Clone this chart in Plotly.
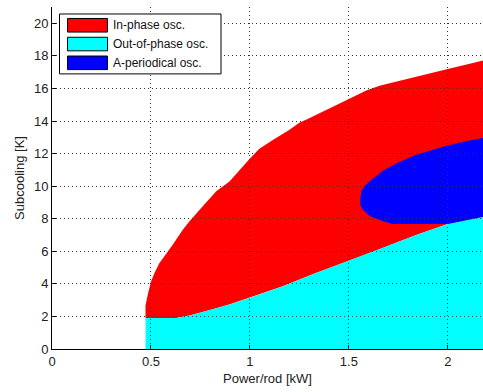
import plotly.graph_objects as go

# ---- data ----
upper_x = [0.4725, 0.4725, 0.484, 0.493, 0.501, 0.518, 0.543, 0.56, 0.594, 0.61, 0.661, 0.695,
           0.762, 0.83, 0.897, 0.947, 0.998, 1.048, 1.116, 1.2, 1.25, 1.3, 1.352, 1.394,
           1.487, 1.588, 1.655, 1.806, 1.87, 2.0, 2.09, 2.175, 2.2]
upper_y = [1.91, 2.67, 3.34, 3.75, 4.16, 4.67, 5.28, 5.55, 6.1, 6.4, 7.33, 7.84,
           8.76, 9.68, 10.29, 11.0, 11.67, 12.29, 12.84, 13.46, 13.9, 14.17, 14.48, 14.75,
           15.26, 15.87, 16.16, 16.63, 16.8, 17.2, 17.45, 17.7, 17.78]

lower_x = [0.4725, 0.628, 0.695, 0.796, 0.9, 1.0, 1.166, 1.334, 1.49, 1.65, 1.84, 2.0, 2.175, 2.2]
lower_y = [1.91, 1.91, 2.05, 2.38, 2.75, 3.15, 3.85, 4.67, 5.4, 6.1, 7.0, 7.68, 8.1, 8.2]

blue_x = [1.556, 1.565, 1.585, 1.604, 1.672, 1.75, 1.84, 1.92, 2.0, 2.09, 2.2,
          2.2, 2.175, 2.0, 1.722, 1.672, 1.604, 1.57, 1.558]
blue_y = [9.17, 9.75, 10.05, 10.29, 10.95, 11.45, 11.93, 12.22, 12.5, 12.75, 13.0,
          8.2, 8.1, 7.68, 7.68, 7.84, 8.18, 8.55, 8.85]

series_names = ["In-phase osc.", "Out-of-phase osc.", "A-periodical osc."]
series_colors = ["#FF0000", "#00FFFF", "#0000FF"]

x_ticks = [0, 0.5, 1, 1.5, 2]
x_ticklabels = ["0", "0.5", "1", "1.5", "2"]
y_ticks = list(range(0, 21, 2))

x_title = "Power/rod [kW]"
y_title = "Subcooling [K]"

X_RANGE = [0, 2.178]
Y_RANGE = [0, 21]

# ---- figure ----
W, H = 483, 392
ML, MR, MT, MB = 52, 0, 7, 42.5
FONT = "Liberation Sans, Arial, sans-serif"

fig = go.Figure()

# red: between lower and upper boundary
fig.add_trace(go.Scatter(
    x=upper_x + lower_x[::-1], y=upper_y + lower_y[::-1],
    fill="toself", fillcolor=series_colors[0], mode="lines", line=dict(width=0),
    hoverinfo="skip", showlegend=False))
# cyan: under lower boundary
fig.add_trace(go.Scatter(
    x=lower_x + [lower_x[-1], lower_x[0]], y=lower_y + [0, 0],
    fill="toself", fillcolor=series_colors[1], mode="lines", line=dict(width=0),
    hoverinfo="skip", showlegend=False))
# blue
fig.add_trace(go.Scatter(
    x=blue_x, y=blue_y,
    fill="toself", fillcolor=series_colors[2], mode="lines", line=dict(width=0),
    hoverinfo="skip", showlegend=False))

tickfont = dict(family=FONT, size=13, color="#222")

fig.update_layout(
    width=W, height=H,
    margin=dict(l=ML, r=MR, t=MT, b=MB),
    paper_bgcolor="white", plot_bgcolor="rgba(0,0,0,0)",
    hovermode=False,
    xaxis=dict(domain=[0, 1], range=X_RANGE, showgrid=False, zeroline=False,
               showline=True, linecolor="black", linewidth=1,
               ticks="inside", ticklen=4, tickcolor="black",
               tickvals=x_ticks, ticktext=x_ticklabels, tickfont=tickfont,
               title=dict(text=x_title, font=dict(family=FONT, size=13, color="#222"), standoff=6),
               fixedrange=True),
    yaxis=dict(domain=[0, 1], range=Y_RANGE, showgrid=False, zeroline=False,
               showline=True, linecolor="black", linewidth=1,
               ticks="inside", ticklen=4, tickcolor="black",
               tickvals=y_ticks, tickfont=tickfont,
               title=dict(text=y_title, font=dict(family=FONT, size=13, color="#222"), standoff=6),
               fixedrange=True),
    # grid drawn on top of the fills via a second, non-overlaying subplot
    xaxis2=dict(domain=[0, 1], anchor="y2", range=X_RANGE, showgrid=True,
                gridcolor="#333", gridwidth=1, griddash="1px,3px",
                tickvals=x_ticks[1:], showticklabels=False, ticks="",
                zeroline=False, showline=False, fixedrange=True),
    yaxis2=dict(domain=[0, 1], anchor="x2", range=Y_RANGE, showgrid=True,
                gridcolor="#333", gridwidth=1, griddash="1px,3px",
                tickvals=y_ticks[1:], showticklabels=False, ticks="",
                zeroline=False, showline=False, fixedrange=True),
)

# invisible trace to make sure the grid subplot exists
fig.add_trace(go.Scatter(x=[None], y=[None], xaxis="x2", yaxis="y2",
                         mode="markers", showlegend=False, hoverinfo="skip"))

# ---- manual legend (MATLAB style) ----
PW = W - ML - MR
PH = H - MT - MB


def px_x(px):
    return (px - ML) / PW


def px_y(py):
    return (H - MB - py) / PH


shapes = []
annotations = []
shapes.append(dict(type="rect", xref="paper", yref="paper",
                   x0=px_x(59.5), x1=px_x(221), y0=px_y(74), y1=px_y(14),
                   fillcolor="white", line=dict(color="black", width=1), layer="above"))
row_centers = [25.3, 44.1, 62.9]
for name, col, cy in zip(series_names, series_colors, row_centers):
    shapes.append(dict(type="rect", xref="paper", yref="paper",
                       x0=px_x(67.5), x1=px_x(107.5), y0=px_y(cy + 6.8), y1=px_y(cy - 6.8),
                       fillcolor=col, line=dict(color="black", width=1), layer="above"))
    annotations.append(dict(xref="paper", yref="paper", x=px_x(110.5), y=px_y(cy),
                            text=name, showarrow=False, xanchor="left", yanchor="middle",
                            font=dict(family=FONT, size=12, color="#111")))

fig.update_layout(shapes=shapes, annotations=annotations)

fig.write_html("out.html", config={"displayModeBar": False, "staticPlot": True})
